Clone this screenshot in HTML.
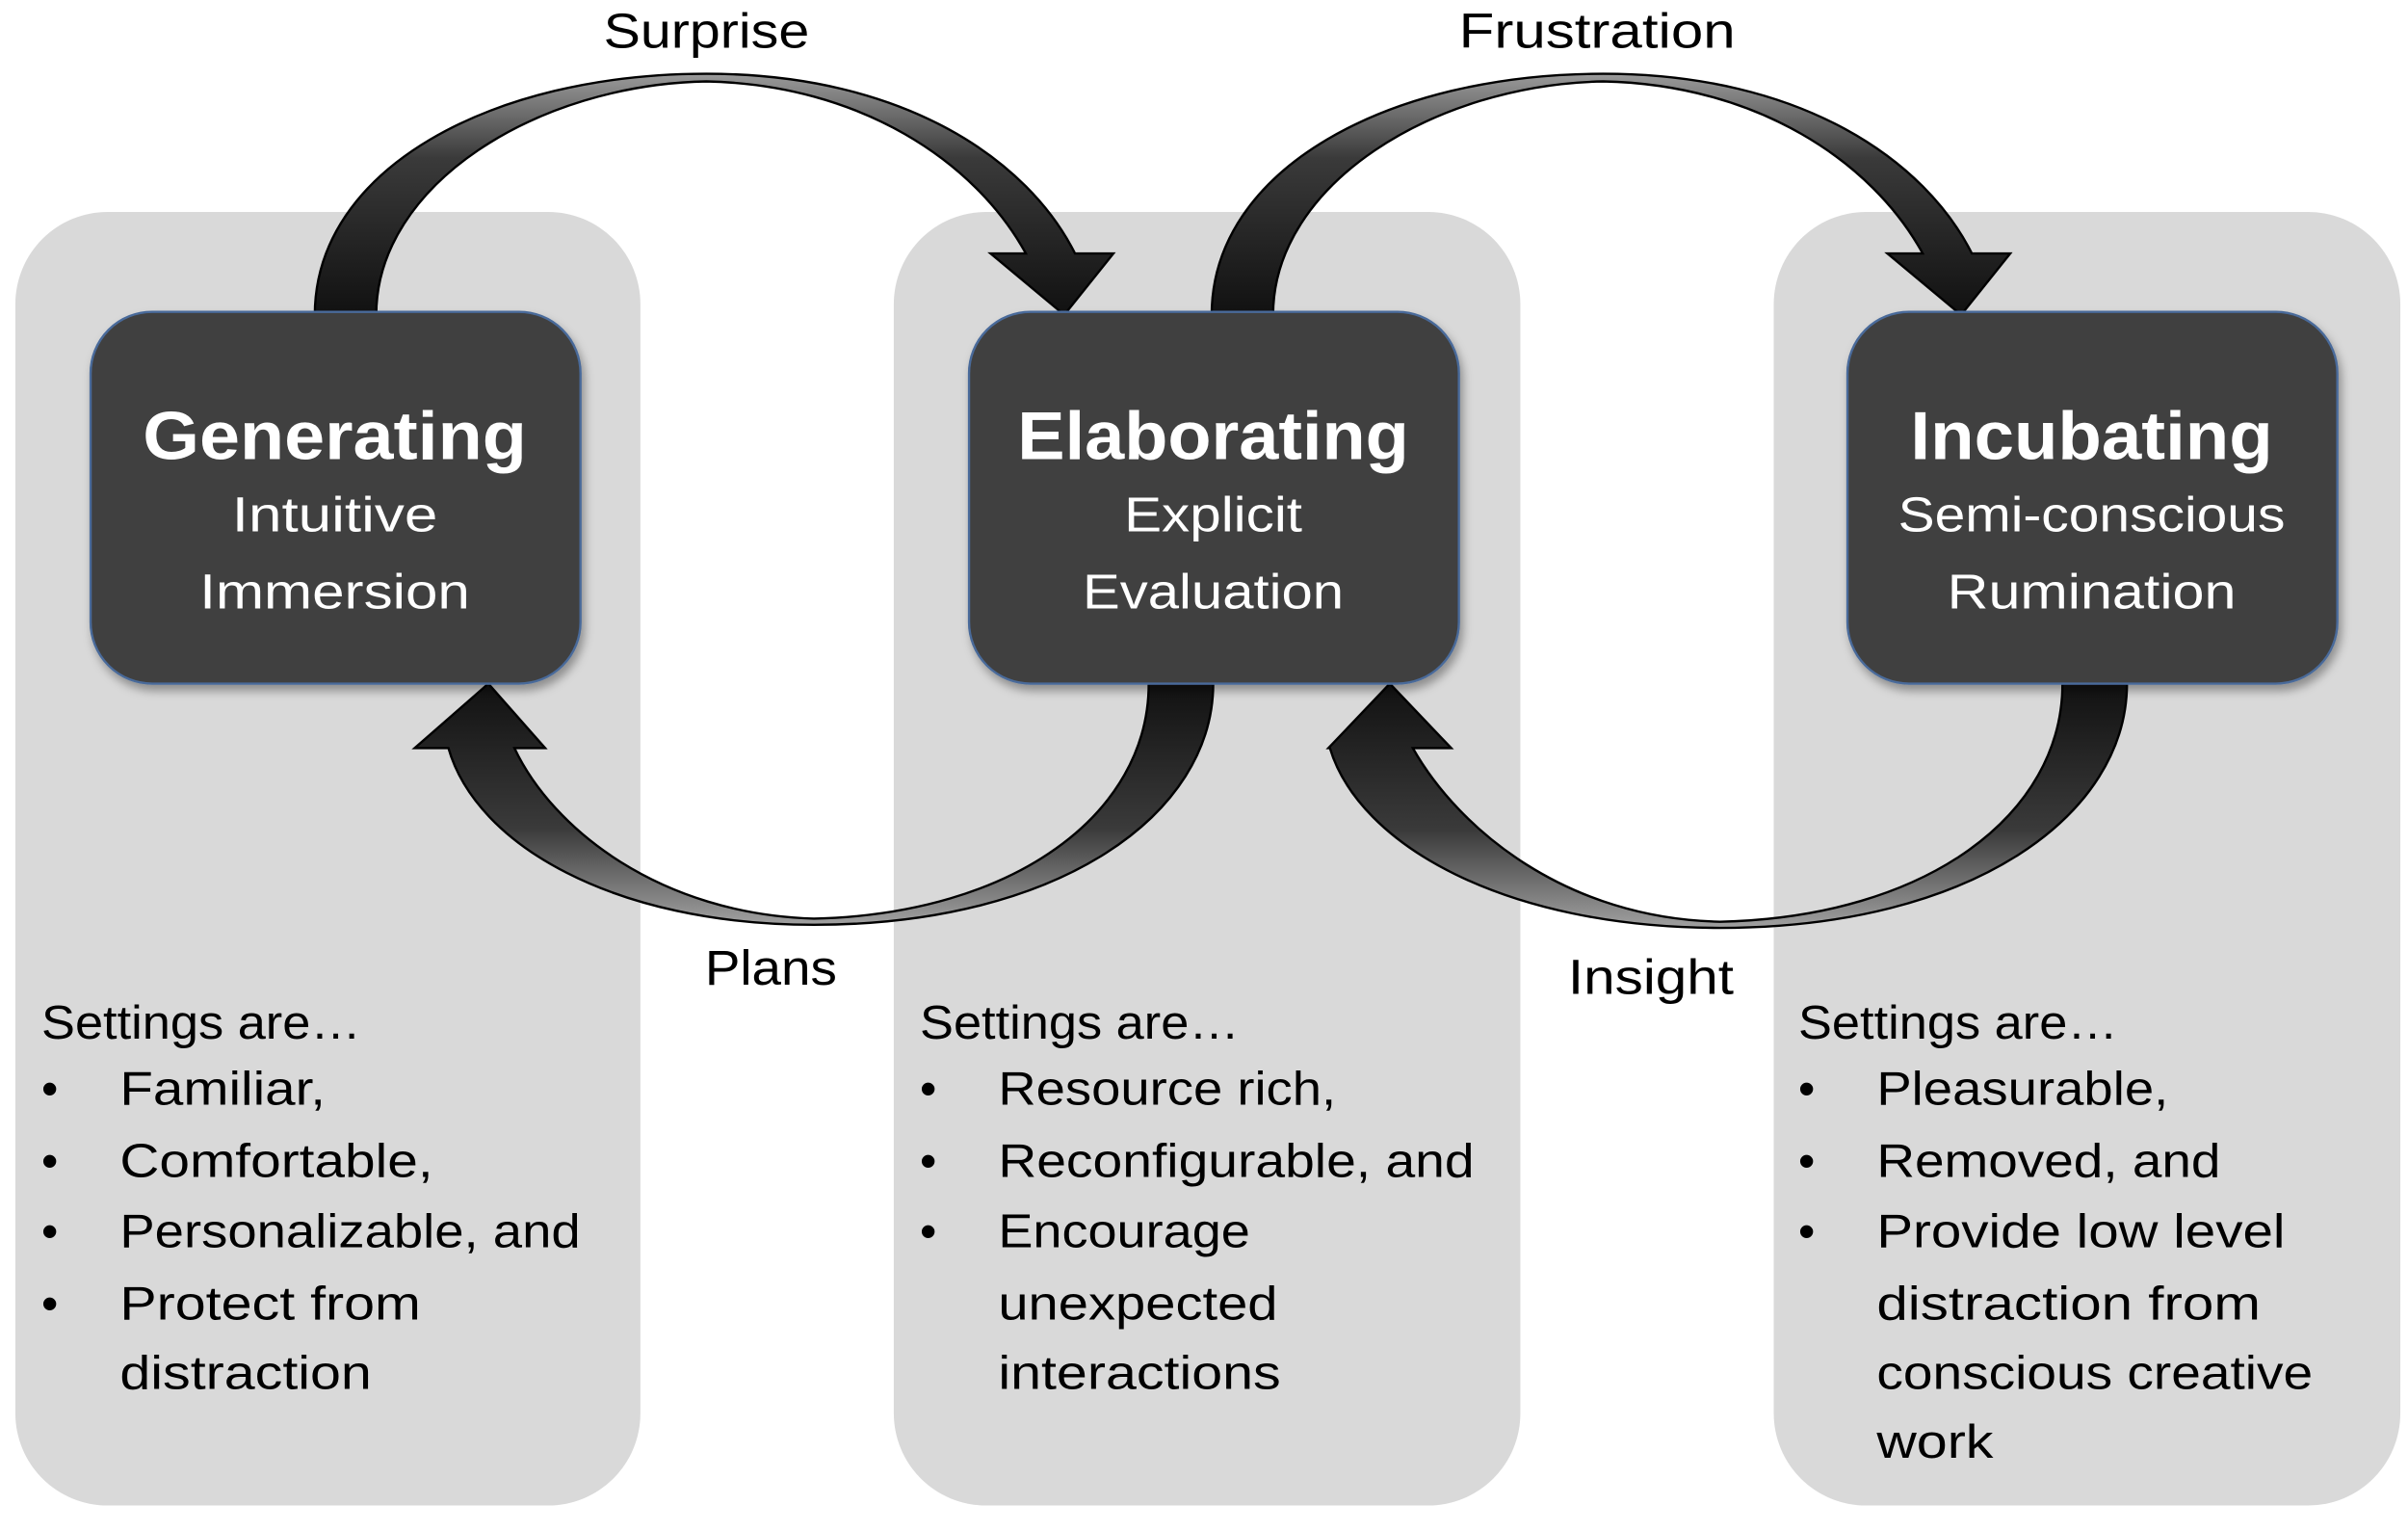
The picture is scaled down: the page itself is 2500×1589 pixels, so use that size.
<!DOCTYPE html>
<html><head><meta charset="utf-8"><style>
html,body{margin:0;padding:0;background:#fff;}
svg{display:block;}
text{font-family:"Liberation Sans",sans-serif;}
</style></head><body>
<svg width="2500" height="1589" viewBox="0 0 1568 996.6" preserveAspectRatio="none" xmlns="http://www.w3.org/2000/svg">
<defs>
<linearGradient id="gt" x1="0" y1="0" x2="0" y2="1">
<stop offset="0" stop-color="#9a9a9a"/><stop offset="0.35" stop-color="#3a3a3a"/><stop offset="1" stop-color="#111"/>
</linearGradient>
<linearGradient id="gb" x1="0" y1="1" x2="0" y2="0">
<stop offset="0" stop-color="#a0a0a0"/><stop offset="0.4" stop-color="#3a3a3a"/><stop offset="1" stop-color="#111"/>
</linearGradient>
<filter id="sh" x="-10%" y="-10%" width="120%" height="120%"><feDropShadow dx="2" dy="4" stdDeviation="3" flood-opacity="0.35"/></filter>
</defs>
<!-- panels -->
<rect x="10" y="138" width="407" height="842" rx="60" fill="#d9d9d9"/>
<rect x="582" y="138" width="408" height="842" rx="60" fill="#d9d9d9"/>
<rect x="1155" y="138" width="408" height="842" rx="60" fill="#d9d9d9"/>

<!-- top arrows -->
<g id="topa">
<path d="M205,205 C205,110 320,48 460,48 C590,48 670,105 700,165 L725,165 L693,205 L645,165 L668,165 C635,105 560,55 460,53 C350,55 245,120 245,205 Z" fill="url(#gt)" stroke="#000" stroke-width="1.5"/>
</g>
<g transform="translate(584,0)">
<path d="M205,205 C205,110 320,48 460,48 C590,48 670,105 700,165 L725,165 L693,205 L645,165 L668,165 C635,105 560,55 460,53 C350,55 245,120 245,205 Z" fill="url(#gt)" stroke="#000" stroke-width="1.5"/>
</g>
<!-- bottom arrows -->
<path d="M790,445 C790,530 690,602 530,602 C400,602 310,550 292,487 L270,487 L318,445 L355,487 L335,487 C360,540 430,595 530,598 C660,595 748,530 748,445 Z" fill="url(#gb)" stroke="#000" stroke-width="1.5"/>
<path d="M1385,445 C1385,530 1285,604 1120,604 C980,604 885,550 866,487 L865,487 L905,445 L945,487 L920,487 C950,540 1020,598 1120,600 C1255,597 1343,530 1343,445 Z" fill="url(#gb)" stroke="#000" stroke-width="1.5"/>

<!-- boxes -->
<g filter="url(#sh)">
<rect x="59" y="203" width="319" height="242" rx="40" fill="#404040" stroke="#4a6b9a" stroke-width="1.5"/>
<rect x="631" y="203" width="319" height="242" rx="40" fill="#404040" stroke="#4a6b9a" stroke-width="1.5"/>
<rect x="1203" y="203" width="319" height="242" rx="40" fill="#404040" stroke="#4a6b9a" stroke-width="1.5"/>
</g>
<g fill="#fff" text-anchor="middle">
<text x="218" y="299" font-size="44" font-weight="bold" textLength="250" lengthAdjust="spacingAndGlyphs">Generating</text>
<text x="218" y="346" font-size="32" textLength="134" lengthAdjust="spacingAndGlyphs">Intuitive</text>
<text x="218" y="396" font-size="32" textLength="176" lengthAdjust="spacingAndGlyphs">Immersion</text>
<text x="790" y="299" font-size="44" font-weight="bold" textLength="255" lengthAdjust="spacingAndGlyphs">Elaborating</text>
<text x="790" y="346" font-size="32" textLength="116" lengthAdjust="spacingAndGlyphs">Explicit</text>
<text x="790" y="396" font-size="32" textLength="170" lengthAdjust="spacingAndGlyphs">Evaluation</text>
<text x="1362" y="299" font-size="44" font-weight="bold" textLength="236" lengthAdjust="spacingAndGlyphs">Incubating</text>
<text x="1362" y="346" font-size="32" textLength="252" lengthAdjust="spacingAndGlyphs">Semi-conscious</text>
<text x="1362" y="396" font-size="32" textLength="188" lengthAdjust="spacingAndGlyphs">Rumination</text>
</g>
<g fill="#000" font-size="32">
<text x="460" y="31" text-anchor="middle" textLength="134" lengthAdjust="spacingAndGlyphs">Surprise</text>
<text x="1040" y="31" text-anchor="middle" textLength="180" lengthAdjust="spacingAndGlyphs">Frustration</text>
<text x="502" y="641" text-anchor="middle" textLength="86" lengthAdjust="spacingAndGlyphs">Plans</text>
<text x="1075" y="647" text-anchor="middle" textLength="108" lengthAdjust="spacingAndGlyphs">Insight</text>
</g>
<g fill="#000" font-size="31">
<text x="27" y="676" textLength="208" lengthAdjust="spacingAndGlyphs">Settings are…</text>
<text x="27" y="719">•</text><text x="78" y="719" textLength="134" lengthAdjust="spacingAndGlyphs">Familiar,</text>
<text x="27" y="766">•</text><text x="78" y="766" textLength="204" lengthAdjust="spacingAndGlyphs">Comfortable,</text>
<text x="27" y="812">•</text><text x="78" y="812" textLength="300" lengthAdjust="spacingAndGlyphs">Personalizable, and</text>
<text x="27" y="859">•</text><text x="78" y="859" textLength="196" lengthAdjust="spacingAndGlyphs">Protect from</text>
<text x="78" y="904" textLength="164" lengthAdjust="spacingAndGlyphs">distraction</text>

<text x="599" y="676" textLength="208" lengthAdjust="spacingAndGlyphs">Settings are…</text>
<text x="599" y="719">•</text><text x="650" y="719" textLength="220" lengthAdjust="spacingAndGlyphs">Resource rich,</text>
<text x="599" y="766">•</text><text x="650" y="766" textLength="310" lengthAdjust="spacingAndGlyphs">Reconfigurable, and</text>
<text x="599" y="812">•</text><text x="650" y="812" textLength="164" lengthAdjust="spacingAndGlyphs">Encourage</text>
<text x="650" y="859" textLength="182" lengthAdjust="spacingAndGlyphs">unexpected</text>
<text x="650" y="904" textLength="184" lengthAdjust="spacingAndGlyphs">interactions</text>

<text x="1171" y="676" textLength="208" lengthAdjust="spacingAndGlyphs">Settings are…</text>
<text x="1171" y="719">•</text><text x="1222" y="719" textLength="190" lengthAdjust="spacingAndGlyphs">Pleasurable,</text>
<text x="1171" y="766">•</text><text x="1222" y="766" textLength="224" lengthAdjust="spacingAndGlyphs">Removed, and</text>
<text x="1171" y="812">•</text><text x="1222" y="812" textLength="266" lengthAdjust="spacingAndGlyphs">Provide low level</text>
<text x="1222" y="859" textLength="250" lengthAdjust="spacingAndGlyphs">distraction from</text>
<text x="1222" y="904" textLength="284" lengthAdjust="spacingAndGlyphs">conscious creative</text>
<text x="1222" y="949" textLength="76" lengthAdjust="spacingAndGlyphs">work</text>
</g>
</svg>
</body></html>
